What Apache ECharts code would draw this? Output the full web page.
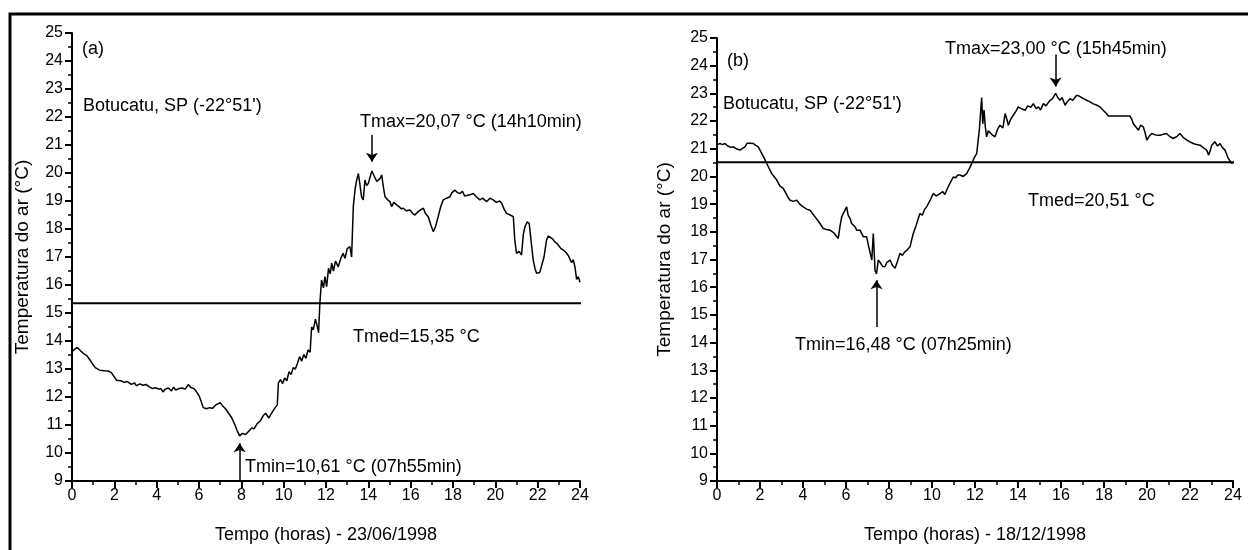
<!DOCTYPE html>
<html>
<head>
<meta charset="utf-8">
<script src="https://cdn.jsdelivr.net/npm/echarts@6/dist/echarts.min.js"></script>
<style>
html,body{margin:0;padding:0;background:#fff;}
#chart{width:1248px;height:550px;}
</style>
</head>
<body>
<div id="chart"></div>
<script>
// ---- Data (hour, air temperature °C) ----
const seriesA = [
[0.0,13.62],[0.12,13.70],[0.25,13.77],[0.4,13.65],[0.55,13.55],[0.7,13.48],[0.85,13.32],[1.0,13.15],[1.1,13.05],[1.3,12.96],
[1.5,12.94],[1.7,12.93],[1.85,12.88],[2.0,12.72],[2.1,12.60],[2.3,12.58],[2.5,12.52],[2.6,12.56],[2.8,12.45],[2.95,12.50],
[3.05,12.40],[3.2,12.47],[3.35,12.42],[3.5,12.45],[3.65,12.36],[3.8,12.30],[3.95,12.33],[4.1,12.28],[4.2,12.30],[4.3,12.18],
[4.4,12.28],[4.55,12.32],[4.7,12.22],[4.8,12.35],[4.9,12.25],[5.05,12.30],[5.2,12.32],[5.35,12.28],[5.5,12.45],[5.6,12.35],
[5.75,12.30],[5.85,12.22],[6.0,12.05],[6.1,11.85],[6.2,11.62],[6.35,11.58],[6.5,11.62],[6.65,11.60],[6.8,11.72],[7.0,11.80],
[7.1,11.70],[7.25,11.58],[7.4,11.42],[7.55,11.25],[7.7,11.00],[7.8,10.80],[7.92,10.61],[8.05,10.70],[8.2,10.66],[8.35,10.78],
[8.5,10.90],[8.6,10.86],[8.75,11.05],[8.9,11.15],[9.05,11.35],[9.15,11.42],[9.3,11.25],[9.45,11.45],[9.6,11.62],[9.7,11.72],
[9.75,12.50],[9.85,12.62],[9.95,12.48],[10.05,12.68],[10.15,12.58],[10.25,12.90],[10.35,12.80],[10.45,13.05],[10.55,13.00],[10.65,13.20],
[10.75,13.44],[10.85,13.28],[10.95,13.52],[11.05,13.38],[11.15,13.68],[11.25,13.60],[11.32,14.50],[11.4,14.40],[11.5,14.78],[11.58,14.55],
[11.65,14.30],[11.71,15.35],[11.79,16.18],[11.88,15.90],[11.95,16.30],[12.03,15.94],[12.12,16.60],[12.2,16.40],[12.27,16.78],[12.35,16.50],
[12.45,16.85],[12.58,16.65],[12.7,16.95],[12.81,17.13],[12.9,16.95],[13.0,17.30],[13.13,17.37],[13.21,17.00],[13.29,18.80],[13.37,19.40],
[13.45,19.75],[13.53,19.98],[13.6,19.60],[13.68,19.15],[13.76,19.04],[13.84,19.75],[13.92,19.55],[14.0,19.63],[14.1,19.90],[14.17,20.07],
[14.3,19.85],[14.4,19.70],[14.47,19.63],[14.55,19.80],[14.63,19.93],[14.72,19.45],[14.79,19.15],[14.9,19.05],[15.02,18.98],[15.1,18.80],
[15.2,18.95],[15.34,18.86],[15.45,18.80],[15.55,18.72],[15.65,18.74],[15.8,18.65],[15.97,18.68],[16.1,18.55],[16.2,18.50],[16.35,18.62],
[16.5,18.70],[16.6,18.74],[16.7,18.55],[16.83,18.44],[16.95,18.15],[17.07,17.90],[17.18,18.10],[17.3,18.44],[17.42,18.80],[17.54,19.04],
[17.7,19.10],[17.86,19.15],[17.95,19.30],[18.09,19.39],[18.2,19.30],[18.33,19.27],[18.45,19.35],[18.55,19.18],[18.64,19.15],[18.8,19.22],
[18.96,19.27],[19.1,19.15],[19.27,19.04],[19.4,19.10],[19.59,18.98],[19.75,19.10],[19.9,19.04],[20.05,18.95],[20.2,19.00],[20.3,18.92],
[20.42,18.70],[20.53,18.56],[20.7,18.50],[20.85,18.44],[20.92,17.60],[21.0,17.13],[21.12,17.20],[21.24,17.07],[21.32,17.80],[21.4,18.08],
[21.5,18.25],[21.6,18.20],[21.7,17.50],[21.79,16.89],[21.87,16.60],[21.95,16.42],[22.1,16.45],[22.19,16.42],[22.3,17.00],[22.42,17.61],
[22.5,17.75],[22.58,17.79],[22.7,17.65],[22.8,17.55],[22.9,17.49],[23.0,17.40],[23.1,17.30],[23.21,17.25],[23.35,17.15],[23.45,17.05],
[23.52,17.01],[23.6,16.80],[23.68,16.90],[23.76,16.65],[23.84,16.20],[23.92,16.30],[24.0,16.10]
];
const seriesB = [
[0.0,21.15],[0.14,21.19],[0.25,21.15],[0.37,21.19],[0.5,21.10],[0.65,21.05],[0.76,21.07],[0.9,21.00],[1.07,20.95],[1.2,21.02],
[1.3,21.07],[1.4,21.20],[1.46,21.25],[1.55,21.20],[1.69,21.19],[1.8,21.12],[1.92,21.07],[2.0,20.95],[2.08,20.83],[2.2,20.65],
[2.31,20.47],[2.42,20.30],[2.54,20.11],[2.65,20.00],[2.78,19.87],[2.93,19.65],[3.08,19.57],[3.2,19.40],[3.3,19.25],[3.4,19.14],
[3.55,19.10],[3.71,19.14],[3.85,19.00],[4.01,18.90],[4.17,18.82],[4.33,18.78],[4.45,18.65],[4.56,18.54],[4.7,18.40],[4.79,18.30],
[4.94,18.12],[5.1,18.08],[5.26,18.06],[5.33,18.00],[5.45,17.95],[5.55,17.85],[5.64,17.76],[5.72,18.20],[5.8,18.54],[5.9,18.70],
[6.03,18.90],[6.1,18.60],[6.19,18.48],[6.26,18.30],[6.35,18.25],[6.42,18.18],[6.5,18.06],[6.65,18.06],[6.81,17.82],[6.96,17.82],
[7.04,17.52],[7.12,17.46],[7.2,16.98],[7.27,17.94],[7.35,16.60],[7.42,16.48],[7.5,16.98],[7.58,16.90],[7.7,16.75],[7.81,16.74],
[7.9,16.90],[8.05,16.98],[8.15,16.80],[8.28,16.68],[8.4,16.95],[8.51,17.22],[8.62,17.15],[8.74,17.28],[8.85,17.35],[8.98,17.46],
[9.05,17.70],[9.13,17.94],[9.25,18.20],[9.35,18.45],[9.44,18.66],[9.55,18.60],[9.65,18.80],[9.75,18.90],[9.85,19.05],[9.95,19.20],
[10.06,19.38],[10.2,19.30],[10.37,19.38],[10.5,19.45],[10.6,19.35],[10.68,19.50],[10.8,19.70],[10.9,19.85],[10.99,19.98],[11.1,19.95],
[11.2,20.05],[11.3,20.05],[11.45,20.00],[11.61,20.10],[11.75,20.30],[11.85,20.47],[11.95,20.65],[12.08,20.83],[12.2,21.67],[12.31,22.85],
[12.36,21.90],[12.42,22.40],[12.48,21.79],[12.54,21.43],[12.62,21.65],[12.7,21.67],[12.8,21.50],[12.93,21.43],[13.05,21.70],[13.16,21.85],
[13.3,21.75],[13.4,22.27],[13.47,22.10],[13.55,21.85],[13.65,22.05],[13.78,22.21],[13.9,22.35],[14.01,22.51],[14.15,22.45],[14.33,22.39],
[14.45,22.55],[14.6,22.50],[14.71,22.63],[14.85,22.45],[14.95,22.51],[15.05,22.40],[15.18,22.63],[15.3,22.55],[15.49,22.75],[15.6,22.80],
[15.75,23.00],[15.85,22.85],[15.95,22.75],[16.05,22.85],[16.19,22.57],[16.3,22.70],[16.42,22.81],[16.55,22.75],[16.73,22.93],[16.85,22.90],
[17.04,22.81],[17.2,22.75],[17.35,22.69],[17.5,22.62],[17.65,22.58],[17.81,22.51],[17.95,22.40],[18.1,22.28],[18.2,22.18],[18.5,22.18],
[18.8,22.18],[19.1,22.18],[19.21,22.18],[19.3,22.05],[19.36,21.91],[19.45,21.98],[19.6,21.67],[19.7,21.85],[19.83,21.79],[19.92,21.55],
[19.99,21.31],[20.1,21.45],[20.22,21.55],[20.4,21.50],[20.6,21.49],[20.75,21.52],[20.91,21.55],[21.05,21.45],[21.22,21.37],[21.4,21.45],
[21.53,21.55],[21.7,21.40],[21.85,21.31],[22.0,21.25],[22.15,21.19],[22.3,21.15],[22.47,21.13],[22.6,21.05],[22.78,20.95],[22.86,20.77],
[22.95,20.95],[23.01,21.13],[23.16,21.25],[23.28,21.10],[23.4,21.19],[23.5,21.05],[23.63,20.95],[23.78,20.65],[23.87,20.60],[23.94,20.47],
[24.0,20.50]
];
// mean temperatures and the hour where the drawn mean line ends
const tmedA = 15.35, tmedEndA = 24.95;
const tmedB = 20.51, tmedEndB = 24.2;
// annotation arrows: [hour, fromTemp, toTemp(head)]
const arrowsA = [[14.17, 21.36, 20.4], [7.92, 9.0, 10.35]];
const arrowsB = [[15.75, 24.4, 23.25], [7.42, 14.56, 16.25]];
// axis ticks
const xTicks = [0, 24, 2];
const yTicks = [9, 25, 1];
// texts
const xTitleA = 'Tempo (horas) - 23/06/1998';
const xTitleB = 'Tempo (horas) - 18/12/1998';
const yTitle = 'Temperatura do ar (°C)';
const site = "Botucatu, SP (-22°51')";
const notesA = ['(a)', 'Tmax=20,07 °C (14h10min)', 'Tmed=15,35 °C', 'Tmin=10,61 °C (07h55min)'];
const notesB = ['(b)', 'Tmax=23,00 °C (15h45min)', 'Tmed=20,51 °C', 'Tmin=16,48 °C (07h25min)'];

const FONT = 'Liberation Sans, Arial, sans-serif';
const chart = echarts.init(document.getElementById('chart'), null, {renderer: 'canvas'});

function xAxis(idx, title) {
  return {
    type: 'value', gridIndex: idx, min: xTicks[0], max: xTicks[1], interval: xTicks[2],
    axisLine: {show: true, onZero: false, lineStyle: {color: '#000', width: 2}},
    axisTick: {show: true, length: 7, lineStyle: {color: '#000', width: 2}},
    minorTick: {show: true, splitNumber: 2, length: 4, lineStyle: {color: '#000', width: 1.5}},
    splitLine: {show: false},
    axisLabel: {color: '#000', fontSize: 16, fontFamily: FONT, margin: 7},
    name: title, nameLocation: 'middle', nameGap: 45,
    nameTextStyle: {color: '#000', fontSize: 18, fontFamily: FONT}
  };
}
function yAxis(idx, gap) {
  return {
    type: 'value', gridIndex: idx, min: yTicks[0], max: yTicks[1], interval: yTicks[2],
    axisLine: {show: true, onZero: false, lineStyle: {color: '#000', width: 2}},
    axisTick: {show: true, length: 7, lineStyle: {color: '#000', width: 2}},
    minorTick: {show: true, splitNumber: 2, length: 4, lineStyle: {color: '#000', width: 1.5}},
    splitLine: {show: false},
    axisLabel: {color: '#000', fontSize: 16, fontFamily: FONT, margin: 9},
    name: yTitle, nameLocation: 'middle', nameGap: gap,
    nameTextStyle: {color: '#000', fontSize: 19, fontFamily: FONT}
  };
}
function arrowMark(arrows) {
  return {
    silent: true, animation: false,
    symbol: ['none', 'arrow'], symbolSize: 9,
    label: {show: false},
    lineStyle: {color: '#000', width: 1.5, type: 'solid'},
    itemStyle: {color: '#000'},
    data: arrows.map(a => [{coord: [a[0], a[1]]}, {coord: [a[0], a[2]]}])
  };
}
function txt(x, y, s, size) {
  return {type: 'text', left: x, top: y, silent: true,
    style: {text: s, fill: '#000', font: (size || 18) + 'px ' + FONT, textVerticalAlign: 'middle'}};
}

const option = {
  backgroundColor: '#fff',
  animation: false,
  grid: [
    {left: 72, right: 668, top: 33, bottom: 69},
    {left: 717, right: 15, top: 38, bottom: 69}
  ],
  xAxis: [xAxis(0, xTitleA), xAxis(1, xTitleB)],
  yAxis: [yAxis(0, 40), yAxis(1, 43)],
  series: [
    {type: 'line', xAxisIndex: 0, yAxisIndex: 0, data: seriesA, showSymbol: false,
     lineStyle: {color: '#000', width: 1.5}, markLine: arrowMark(arrowsA)},
    {type: 'line', xAxisIndex: 0, yAxisIndex: 0, clip: false, showSymbol: false,
     data: [[0, tmedA], [tmedEndA, tmedA]], lineStyle: {color: '#000', width: 2}},
    {type: 'line', xAxisIndex: 1, yAxisIndex: 1, data: seriesB, showSymbol: false,
     lineStyle: {color: '#000', width: 1.5}, markLine: arrowMark(arrowsB)},
    {type: 'line', xAxisIndex: 1, yAxisIndex: 1, clip: false, showSymbol: false,
     data: [[0, tmedB], [tmedEndB, tmedB]], lineStyle: {color: '#000', width: 2}}
  ],
  graphic: [
    {type: 'rect', silent: true, shape: {x: 10, y: 14, width: 1300, height: 600},
     style: {fill: null, stroke: '#000', lineWidth: 3}},
    txt(82, 40, notesA[0]),
    txt(83, 97, site),
    txt(360, 113, notesA[1]),
    txt(353, 328, notesA[2]),
    txt(245, 458, notesA[3]),
    txt(727, 52, notesB[0]),
    txt(723, 95, site),
    txt(945, 40, notesB[1]),
    txt(1028, 192, notesB[2]),
    txt(795, 336, notesB[3])
  ]
};
chart.setOption(option);
</script>
</body>
</html>
